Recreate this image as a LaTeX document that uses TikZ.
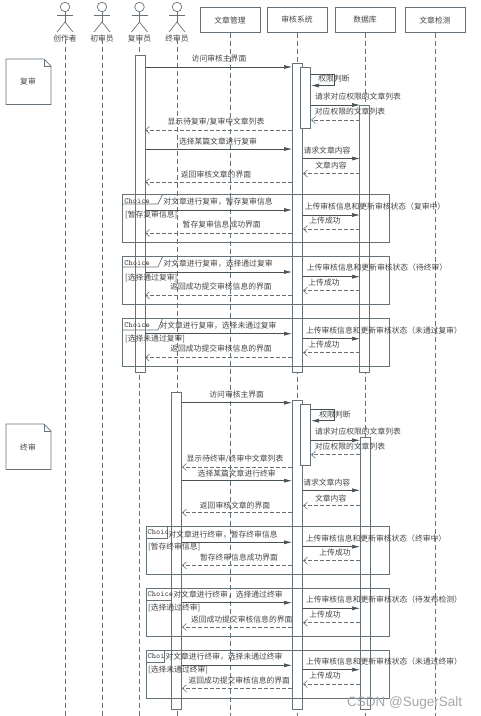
\documentclass[tikz,border=0pt]{standalone}
\usepackage{fontspec}
\setmainfont{Noto Sans CJK SC}
\newfontfamily\markfont{Liberation Sans}
\usetikzlibrary{arrows.meta}
\definecolor{linegray}{HTML}{66727A}
\definecolor{inkgray}{HTML}{444444}
\tikzset{
  every node/.style={font=\fontsize{7.8}{9}\selectfont,text=inkgray,inner sep=0pt},
  lifeline/.style={draw=linegray,dashed,dash pattern=on 5pt off 3pt,line width=0.6pt},
  headbox/.style={draw=linegray,line width=0.7pt,minimum width=60pt,minimum height=25pt},
  activebar/.style={draw=linegray,fill=white,line width=0.7pt,minimum width=10pt},
  framebox/.style={draw=linegray,line width=0.7pt},
  callmsg/.style={draw=linegray!70!black,line width=0.6pt,-{Latex[length=8pt,width=4pt]}},
  retmsg/.style={draw=linegray,line width=0.6pt,dash pattern=on 4pt off 2pt,-{Straight Barb[length=4pt,width=7pt]}},
  shapeline/.style={draw=linegray,line width=0.7pt}
}
% name, style, x from, x to, y, label x, label y, text
\newcommand{\seqmsg}[8]{
  \coordinate (#1s) at (#3,#5);
  \coordinate (#1t) at (#4,#5);
  \draw[#2] (#1s) -- (#1t);
  \node (#1l) at (#6,#7) {#8};
}
% name, x, text
\newcommand{\stickman}[3]{
  \node[circle,shapeline,minimum size=9.5pt] (#1head) at (#2,7) {};
  \coordinate (#1hip) at (#2,22);
  \coordinate (#1foot) at (#2,716);
  \draw[shapeline] (#1head) -- (#1hip);
  \draw[shapeline] (#2-8,15) -- (#2+8,15);
  \draw[shapeline] (#2-8,32) -- (#1hip) -- (#2+8,32);
  \node (#1name) at (#2,39) {#3};
  \draw[lifeline] (#1name.center) -- (#1foot);
}
% name, x, text
\newcommand{\headnode}[3]{
  \node[headbox] (#1head) at (#2,20) {#3};
  \coordinate (#1foot) at (#2,716);
  \draw[lifeline] (#1head) -- (#1foot);
}
% left, top, right top, right bottom, bottom, text y, text
\newcommand{\choicetab}[7]{
  \draw[shapeline] (#1,#5) -- (#4,#5) -- (#3,#2);
  \node[anchor=west,font=\fontsize{8}{9}\ttfamily] (tab#2) at (#1+1.5,#6) {#7};
}
% name, center y, text
\newcommand{\notesheet}[3]{
  \draw[shapeline] (6,#2-23) -- (44,#2-23) -- (51,#2-16) -- (51,#2+22.5) -- (6,#2+22.5) -- cycle;
  \draw[shapeline] (44,#2-23) -- (44,#2-16) -- (51,#2-16);
  \node (#1) at (28,#2) {#3};
}
\begin{document}
\begin{tikzpicture}[x=1pt,y=-1pt]
\useasboundingbox (0,0) rectangle (481,716);

% Actors
\stickman{author}{65}{创作者}
\stickman{first}{102}{初审员}
\stickman{second}{139.5}{复审员}
\stickman{final}{177}{终审员}

% Systems
\headnode{manage}{230}{文章管理}
\headnode{audit}{297}{审核系统}
\headnode{store}{365}{数据库}
\headnode{detect}{435}{文章检测}

% Notes
\notesheet{noteSecond}{82}{复审}
\notesheet{noteFinal}{447}{终审}

% Second review bars
\node[activebar,minimum height=317pt] (barSecond) at (140,213.5) {};
\node[activebar,minimum height=309pt] (barAudit) at (297.5,217.5) {};
\node[activebar,minimum height=61pt] (barCheck) at (305.7,98) {};
\node[activebar,minimum height=267pt] (barStore) at (364.7,238.5) {};

% Final review bars
\node[activebar,minimum height=317pt] (barFinal) at (176.7,550.5) {};
\node[activebar,minimum height=309pt] (barAuditB) at (297.5,554.5) {};
\node[activebar,minimum height=61pt] (barCheckB) at (305.7,434.5) {};
\node[activebar,minimum height=272pt] (barStoreB) at (365,573) {};

% Second review messages
\seqmsg{a}{callmsg}{145}{292}{67}{219}{59}{访问审核主界面}
\coordinate (selfA) at (311,74);
\coordinate (selfB) at (334.7,74);
\coordinate (selfC) at (334.7,85.5);
\coordinate (selfD) at (311,85.5);
\draw[callmsg] (selfA) -- (selfB) -- (selfC) -- (selfD);
\node (selfL) at (334,79) {权限判断};
\seqmsg{b}{callmsg}{311}{360}{105}{358}{97}{请求对应权限的文章列表}
\seqmsg{c}{retmsg}{360}{311}{120}{350}{112}{对应权限的文章列表}
\seqmsg{d}{retmsg}{292}{145}{130}{216}{122}{显示待复审/复审中文章列表}
\seqmsg{e}{callmsg}{145}{292}{149}{218}{141}{选择某篇文章进行复审}
\seqmsg{f}{callmsg}{303}{360}{158.5}{327}{150}{请求文章内容}
\seqmsg{g}{retmsg}{360}{303}{173.5}{331}{165}{文章内容}
\seqmsg{h}{retmsg}{292}{145}{182}{216}{174}{返回审核文章的界面}

% Choice one
\node[framebox,minimum width=266.6pt,minimum height=48.4pt] (choiceA) at (256,218.5) {};
\choicetab{122.7}{194.3}{162.7}{158}{204}{201}{Choice}
\node[anchor=west] (guardA) at (125,215) {[暂存复审信息]};
\seqmsg{i}{callmsg}{145}{292}{210}{218}{202}{对文章进行复审，暂存复审信息}
\seqmsg{j}{callmsg}{303}{360}{215}{375}{207}{上传审核信息和更新审核状态（复审中）}
\seqmsg{k}{retmsg}{360}{303}{229}{325}{221}{上传成功}
\seqmsg{m}{retmsg}{292}{145}{233}{221.7}{225}{暂存复审信息成功界面}

% Choice two
\node[framebox,minimum width=266.6pt,minimum height=48pt] (choiceB) at (256,280.3) {};
\choicetab{122.7}{256.3}{162.7}{158}{267}{262.7}{Choice}
\node[anchor=west] (guardB) at (125,278) {[选择通过复审]};
\seqmsg{n}{callmsg}{145}{292}{272}{218}{264}{对文章进行复审，选择通过复审}
\seqmsg{o}{callmsg}{303}{360}{276.7}{377}{268}{上传审核信息和更新审核状态（待终审）}
\seqmsg{p}{retmsg}{360}{303}{290.7}{324}{283}{上传成功}
\seqmsg{q}{retmsg}{292}{145}{295.3}{221}{287}{返回成功提交审核信息的界面}

% Choice three
\node[framebox,minimum width=266.6pt,minimum height=48pt] (choiceC) at (256,342.3) {};
\choicetab{122.7}{318.3}{162.7}{158}{330}{325}{Choice}
\node[anchor=west] (guardC) at (125,339) {[选择未通过复审]};
\seqmsg{r}{callmsg}{145}{292}{333.7}{218}{326}{对文章进行复审，选择未通过复审}
\seqmsg{u}{callmsg}{303}{360}{338.7}{384}{331}{上传审核信息和更新审核状态（未通过复审）}
\seqmsg{v}{retmsg}{360}{303}{352.7}{324}{345}{上传成功}
\seqmsg{w}{retmsg}{292}{145}{357.7}{221}{349}{返回成功提交审核信息的界面}

% Final review messages
\seqmsg{aa}{callmsg}{182}{292}{402.7}{236.7}{394.5}{访问审核主界面}
\coordinate (selfE) at (311,409);
\coordinate (selfF) at (334,409);
\coordinate (selfG) at (334,420.7);
\coordinate (selfH) at (311,420.7);
\draw[callmsg] (selfE) -- (selfF) -- (selfG) -- (selfH);
\node (selfM) at (335,414.7) {权限判断};
\seqmsg{ab}{callmsg}{311}{360}{440.3}{358}{432}{请求对应权限的文章列表}
\seqmsg{ac}{retmsg}{360}{311}{454.7}{350}{447}{对应权限的文章列表}
\seqmsg{ad}{retmsg}{292}{182}{467}{235}{459}{显示待终审/终审中文章列表}
\seqmsg{ae}{callmsg}{182}{292}{480.7}{236.7}{473}{选择某篇文章进行终审}
\seqmsg{af}{callmsg}{303}{360}{490.3}{326.7}{482}{请求文章内容}
\seqmsg{ag}{retmsg}{360}{303}{505.7}{330.7}{498}{文章内容}
\seqmsg{ah}{retmsg}{292}{182}{512.7}{235}{505}{返回审核文章的界面}

% Choice four
\node[framebox,minimum width=243.3pt,minimum height=48.3pt] (choiceD) at (267.65,550.2) {};
\choicetab{146}{526}{167}{167}{538}{532.3}{Choic}
\node[anchor=west] (guardD) at (148,547) {[暂存终审信息]};
\seqmsg{ai}{callmsg}{182}{292}{542.3}{223}{534.5}{对文章进行终审，暂存终审信息}
\seqmsg{aj}{callmsg}{303}{360}{546.7}{376}{539}{上传审核信息和更新审核状态（终审中）}
\seqmsg{ak}{retmsg}{360}{303}{560.7}{335}{552.5}{上传成功}
\seqmsg{am}{retmsg}{292}{182}{565.3}{239}{557.5}{暂存终审信息成功界面}

% Choice five
\node[framebox,minimum width=243.3pt,minimum height=47.7pt] (choiceE) at (267.65,612.2) {};
\choicetab{146}{588.3}{171}{171}{600}{594}{Choice}
\node[anchor=west] (guardE) at (148,608) {[选择通过终审]};
\seqmsg{an}{callmsg}{182}{292}{602.7}{228}{595}{对文章进行终审，选择通过终审}
\seqmsg{ao}{callmsg}{303}{360}{608.3}{384}{600}{上传审核信息和更新审核状态（待发布检测）}
\seqmsg{ap}{retmsg}{360}{303}{622.7}{325}{614.5}{上传成功}
\seqmsg{aq}{retmsg}{292}{182}{627}{241.7}{620}{返回成功提交审核信息的界面}

% Choice six
\node[framebox,minimum width=243.3pt,minimum height=48pt] (choiceF) at (267.65,674) {};
\choicetab{146}{650}{164}{164}{662}{656}{Choi}
\node[anchor=west] (guardF) at (148,670) {[选择未通过终审]};
\seqmsg{ar}{callmsg}{182}{292}{665.3}{224}{657}{对文章进行终审，选择未通过终审}
\seqmsg{au}{callmsg}{303}{360}{669.7}{384}{662}{上传审核信息和更新审核状态（未通过终审）}
\seqmsg{av}{retmsg}{360}{303}{684}{325}{676}{上传成功}
\seqmsg{aw}{retmsg}{292}{182}{688.3}{239.3}{681}{返回成功提交审核信息的界面}

% Watermark
\node[anchor=west,font=\markfont\fontsize{13.5}{14}\selectfont,text=gray!70] (stamp) at (347,703) {CSDN @SugerSalt};

\end{tikzpicture}
\end{document}
